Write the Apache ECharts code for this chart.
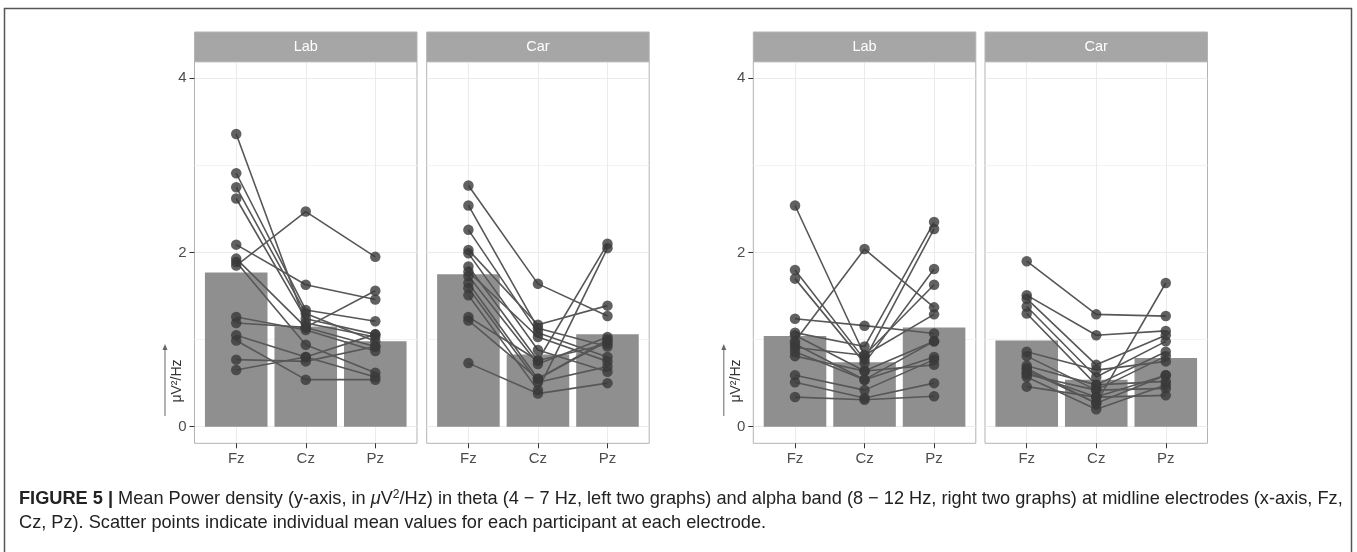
<!DOCTYPE html>
<html>
<head>
<meta charset="utf-8">
<script src="https://cdn.jsdelivr.net/npm/echarts@6/dist/echarts.min.js"></script>
<style>
html, body { margin: 0; padding: 0; background: #fff; }
#main { width: 1357px; height: 552px; }
</style>
</head>
<body>
<div id="main"></div>
<script>
var electrodes = ['Fz', 'Cz', 'Pz'];
var yTicks = [0, 2, 4];

// theta, Lab  (one entry per participant)
var thetaLabFz = [3.36, 2.91, 2.75, 2.62, 2.09, 1.93, 1.89, 1.85, 1.26, 1.19, 1.05, 0.99, 0.77, 0.65];
var thetaLabCz = [1.19, 1.34, 1.30, 1.24, 1.63, 1.14, 0.94, 2.47, 1.11, 1.14, 0.80, 0.54, 0.75, 0.80];
var thetaLabPz = [1.03, 1.21, 0.98, 1.06, 1.46, 0.92, 0.62, 1.95, 0.87, 1.56, 0.57, 0.54, 0.92, 1.06];
var thetaLabMean = [1.77, 1.15, 0.98];

// theta, Car
var thetaCarFz = [2.77, 2.54, 2.26, 2.03, 1.99, 1.84, 1.78, 1.73, 1.65, 1.59, 1.51, 1.26, 1.22, 0.73];
var thetaCarCz = [1.64, 1.13, 1.08, 1.17, 0.88, 0.76, 1.03, 0.72, 0.55, 0.51, 0.42, 0.76, 0.55, 0.38];
var thetaCarPz = [1.27, 0.92, 0.80, 1.39, 0.63, 2.10, 0.75, 1.03, 0.98, 0.69, 2.05, 0.95, 1.00, 0.50];
var thetaCarMean = [1.75, 0.83, 1.06];

// alpha, Lab
var alphaLabFz = [2.54, 1.80, 1.70, 1.24, 1.08, 1.05, 0.98, 0.91, 0.86, 0.81, 0.59, 0.51, 0.34, 0.95];
var alphaLabCz = [0.82, 0.77, 0.73, 1.16, 0.92, 0.64, 2.04, 0.82, 0.54, 0.64, 0.42, 0.33, 0.31, 0.54];
var alphaLabPz = [1.29, 2.27, 1.81, 1.07, 2.35, 0.98, 1.37, 1.63, 0.80, 0.71, 0.77, 0.50, 0.35, 0.98];
var alphaLabMean = [1.04, 0.74, 1.14];

// alpha, Car
var alphaCarFz = [1.90, 1.51, 1.47, 1.38, 1.30, 0.86, 0.81, 0.67, 0.62, 0.57, 0.46, 0.70, 0.60, 0.65];
var alphaCarCz = [1.29, 1.05, 0.71, 0.57, 0.48, 0.65, 0.42, 0.27, 0.34, 0.20, 0.34, 0.48, 0.42, 0.27];
var alphaCarPz = [1.27, 1.10, 1.05, 0.98, 0.86, 0.75, 0.81, 1.65, 0.59, 0.48, 0.36, 0.52, 0.44, 0.59];
var alphaCarMean = [0.99, 0.54, 0.79];

var panels = [
    {title: 'Lab', left: 194.5, fz: thetaLabFz, cz: thetaLabCz, pz: thetaLabPz, mean: thetaLabMean, yLab: true},
    {title: 'Car', left: 426.7, fz: thetaCarFz, cz: thetaCarCz, pz: thetaCarPz, mean: thetaCarMean, yLab: false},
    {title: 'Lab', left: 753.3, fz: alphaLabFz, cz: alphaLabCz, pz: alphaLabPz, mean: alphaLabMean, yLab: true},
    {title: 'Car', left: 985.0, fz: alphaCarFz, cz: alphaCarCz, pz: alphaCarPz, mean: alphaCarMean, yLab: false}
];

var FONT = '"Liberation Sans", Arial, sans-serif';
var PW = 222.5, STEP = PW / 3.2;
var STRIP_TOP = 32, TOP0 = 61.7, Y4 = 78.3, Y0 = 426.7, BOT = 443.3;
var BORDER = '#b3b3b3', GRIDC = '#ebebeb';

var grids = [], xAxes = [], yAxes = [], series = [], graphics = [];

panels.forEach(function (p) {
    var g = grids.length;
    // frame
    grids.push({left: p.left, top: TOP0, width: PW, height: BOT - TOP0, show: true,
        borderColor: BORDER, borderWidth: 1, backgroundColor: '#fff'});
    xAxes.push({gridIndex: g, type: 'value', show: false});
    yAxes.push({gridIndex: g, type: 'value', show: false});

    // horizontal grid lines + y ticks
    grids.push({left: p.left, top: Y4, width: PW, height: Y0 - Y4});
    xAxes.push({gridIndex: g + 1, type: 'value', show: false});
    yAxes.push({
        gridIndex: g + 1, type: 'value', min: yTicks[0], max: yTicks[yTicks.length - 1], interval: 2,
        axisLine: {show: false},
        axisTick: {show: p.yLab, length: 5, lineStyle: {color: '#333'}},
        axisLabel: {show: p.yLab, color: '#4d4d4d', fontSize: 15, fontFamily: FONT, margin: 8},
        splitLine: {show: true, lineStyle: {color: GRIDC, width: 1}},
        minorTick: {show: false, splitNumber: 2},
        minorSplitLine: {show: true, lineStyle: {color: '#f3f3f3', width: 1}}
    });

    // vertical grid lines + x labels
    grids.push({left: p.left + 0.6 * STEP, top: TOP0, width: 2 * STEP, height: BOT - TOP0});
    xAxes.push({
        gridIndex: g + 2, type: 'category', data: electrodes, boundaryGap: false,
        axisLine: {show: false},
        axisTick: {show: true, length: 5, lineStyle: {color: '#333'}},
        axisLabel: {color: '#4d4d4d', fontSize: 15, fontFamily: FONT, margin: 8},
        splitLine: {show: true, lineStyle: {color: GRIDC, width: 1}}
    });
    yAxes.push({gridIndex: g + 2, type: 'value', show: false});

    // data
    grids.push({left: p.left + 0.1 * STEP, top: Y4, width: 3 * STEP, height: Y0 - Y4});
    xAxes.push({gridIndex: g + 3, type: 'category', data: electrodes, show: false});
    yAxes.push({gridIndex: g + 3, type: 'value', min: 0, max: 4, show: false});

    series.push({type: 'bar', xAxisIndex: g + 3, yAxisIndex: g + 3, data: p.mean,
        barWidth: '90%', itemStyle: {color: '#8f8f8f'}, silent: true, z: 2});

    var pts = [];
    for (var i = 0; i < p.fz.length; i++) {
        series.push({type: 'line', xAxisIndex: g + 3, yAxisIndex: g + 3,
            data: [p.fz[i], p.cz[i], p.pz[i]], symbol: 'none', silent: true, z: 3,
            lineStyle: {color: '#575757', width: 1.6}});
        pts.push(['Fz', p.fz[i]], ['Cz', p.cz[i]], ['Pz', p.pz[i]]);
    }
    series.push({type: 'scatter', xAxisIndex: g + 3, yAxisIndex: g + 3, data: pts,
        symbolSize: 10.5, itemStyle: {color: '#3a3a3a'}, silent: true, z: 4});

    // facet strip
    graphics.push({type: 'rect', shape: {x: p.left, y: STRIP_TOP, width: PW, height: TOP0 - STRIP_TOP},
        style: {fill: '#a6a6a6', stroke: BORDER, lineWidth: 1}, z: 1});
    graphics.push({type: 'text', x: p.left + PW / 2, y: (STRIP_TOP + TOP0) / 2,
        style: {text: p.title, fill: '#fff', fontSize: 14.5, fontFamily: FONT, align: 'center', verticalAlign: 'middle'}, z: 2});

    // y axis title with arrow
    if (p.yLab) {
        var ax = p.left - 29.5;
        graphics.push({type: 'line', shape: {x1: ax, y1: 416, x2: ax, y2: 348},
            style: {stroke: '#666', lineWidth: 1}, z: 1});
        graphics.push({type: 'polygon', shape: {points: [[ax - 2.5, 350], [ax + 2.5, 350], [ax, 344]]},
            style: {fill: '#666'}, z: 1});
        graphics.push({type: 'text', x: p.left - 17, y: 381, rotation: Math.PI / 2,
            style: {text: 'μV²/Hz', fill: '#333', fontSize: 14, fontFamily: FONT, align: 'center', verticalAlign: 'middle'}, z: 1});
    }
});

// outer frame
graphics.push({type: 'rect', shape: {x: 4.5, y: 8.5, width: 1347, height: 560},
    style: {fill: null, stroke: '#555', lineWidth: 1.5}, z: 0});

// caption
var CAP = 18.2;
var capRich = {
    b: {fontWeight: 'bold', fontSize: CAP, fontFamily: FONT, fill: '#222'},
    i: {fontStyle: 'italic', fontSize: CAP, fontFamily: FONT, fill: '#222'},
    sup: {fontSize: 12, fontFamily: FONT, fill: '#222', verticalAlign: 'top', padding: [0, 0, 9, 0]}
};
graphics.push({type: 'text', x: 19, y: 499, z: 1,
    style: {text: '{b|FIGURE 5 |} Mean Power density (y-axis, in {i|μ}V{sup|2}/Hz) in theta (4 − 7 Hz, left two graphs) and alpha band (8 − 12 Hz, right two graphs) at midline electrodes (x-axis, Fz,',
        rich: capRich, fontSize: CAP, fontFamily: FONT, fill: '#222', verticalAlign: 'middle'}});
graphics.push({type: 'text', x: 19, y: 523, z: 1,
    style: {text: 'Cz, Pz). Scatter points indicate individual mean values for each participant at each electrode.',
        fontSize: CAP, fontFamily: FONT, fill: '#222', verticalAlign: 'middle'}});

var myChart = echarts.init(document.getElementById('main'));
var option = {
    animation: false,
    backgroundColor: '#fff',
    grid: grids,
    xAxis: xAxes,
    yAxis: yAxes,
    series: series,
    graphic: graphics
};
if (option && typeof option === 'object') {
    myChart.setOption(option, true);
}
</script>
</body>
</html>
